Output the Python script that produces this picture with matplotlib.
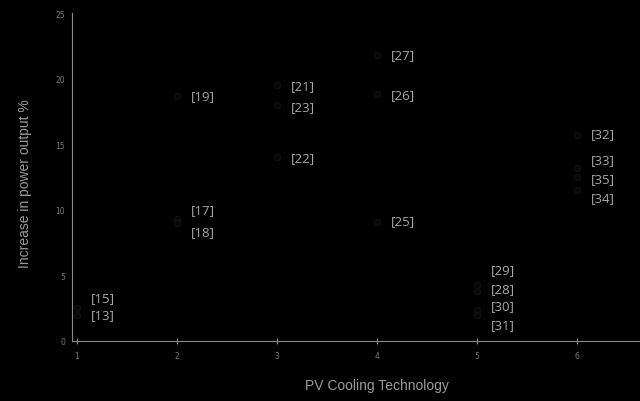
import matplotlib
matplotlib.use("Agg")
import matplotlib.pyplot as plt

# data
tech = [1, 1, 2, 2, 2, 3, 3, 3, 4, 4, 4, 5, 5, 5, 5, 6, 6, 6, 6]
increase = [2.0, 2.5, 9.3, 9.0, 18.7, 19.5, 14.0, 18.0, 9.1, 18.8, 21.8,
            3.8, 4.3, 2.4, 2.0, 15.7, 13.2, 11.5, 12.5]
refs = ["[13]", "[15]", "[17]", "[18]", "[19]", "[21]", "[22]", "[23]", "[25]",
        "[26]", "[27]", "[28]", "[29]", "[30]", "[31]", "[32]", "[33]", "[34]", "[35]"]
label_y = [2.03, 3.33, 10.0, 8.36, 18.7, 19.5, 14.0, 17.9, 9.2, 18.8, 21.8,
           4.0, 5.47, 2.7, 1.27, 15.8, 13.85, 10.9, 12.4]
xticks = [1, 2, 3, 4, 5, 6]
yticks = [0, 5, 10, 15, 20, 25]

fig = plt.figure(figsize=(6.4, 4.02), dpi=100, facecolor="black")
ax = fig.add_axes([72/640, 60/402, 1 - 72/640, (342 - 14)/402])
ax.set_facecolor("black")

ax.scatter(tech, increase, s=20, facecolor="#070707", edgecolor="#111110", linewidth=0.8, zorder=3)
for x, ly, r in zip(tech, label_y, refs):
    ax.text(x + 0.26, ly, r, color="#a8a8a8", fontsize=9.5, family="Open Sans",
            ha="center", va="center")

ax.set_xlim(0.95, 6.63)
ax.set_ylim(0, 25)
ax.set_xticks(xticks)
ax.set_yticks(yticks)
for s in ["top", "right"]:
    ax.spines[s].set_visible(False)
for s in ["left", "bottom"]:
    ax.spines[s].set_color("#8a8a8a")
    ax.spines[s].set_linewidth(0.8)
ax.tick_params(axis="x", direction="inout", length=5, width=0.8, color="#8a8a8a",
               labelcolor="#7a7a7a", labelsize=5.5, pad=5)
ax.tick_params(axis="y", length=0, labelcolor="#7a7a7a", labelsize=5.5, pad=5)
ax.set_xlabel("PV Cooling Technology", color="#9a9a9a", fontsize=10,
              family="Liberation Sans")
ax.set_ylabel("Increase in power output %", color="#9a9a9a", fontsize=10,
              family="Liberation Sans")
ax.xaxis.set_label_coords((377 - 72) / 568, (342 - 386) / 328)
ax.yaxis.set_label_coords((25 - 72) / 568, (342 - 184) / 328)
ax.xaxis.label.set_va("center")
ax.yaxis.label.set_va("center")

fig.savefig("out.png", dpi=100, facecolor="black")
